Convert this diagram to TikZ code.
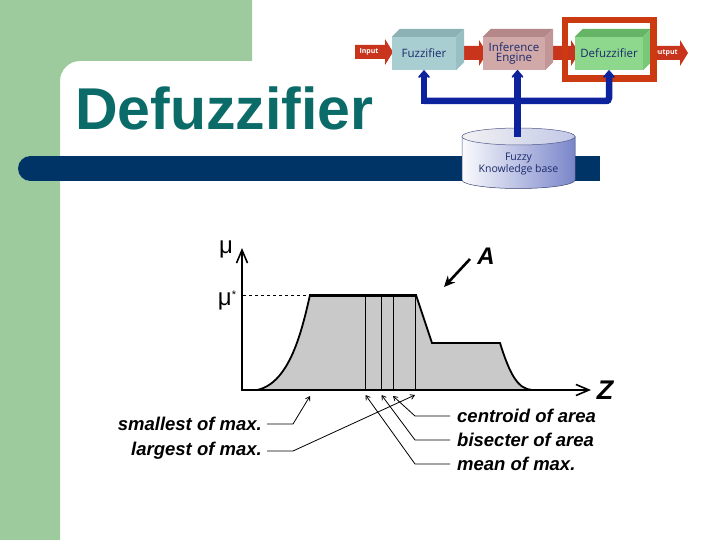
\documentclass[tikz,border=0pt]{standalone}
\usepackage{fontspec}
\setmainfont{Liberation Sans}
\newfontfamily\boxfont{Open Sans}
\usetikzlibrary{arrows.meta,calc}
\definecolor{bggreen}{HTML}{9DCB9D}
\definecolor{titleteal}{HTML}{0B6B68}
\definecolor{barblue}{HTML}{003366}
\definecolor{kbblue}{HTML}{0D239E}
\definecolor{redarrow}{HTML}{C8341C}
\definecolor{hilite}{HTML}{CC3A12}
\definecolor{plotgray}{HTML}{C9C9C9}
\definecolor{boxtext}{HTML}{1A2A6A}
\definecolor{fzfront}{HTML}{A9CED2}
\definecolor{fztop}{HTML}{8DB2B6}
\definecolor{fzside}{HTML}{98BFC3}
\definecolor{iefront}{HTML}{D2A9A9}
\definecolor{ietop}{HTML}{B48888}
\definecolor{ieside}{HTML}{C29696}
\definecolor{dffront}{HTML}{8ED88E}
\definecolor{dftop}{HTML}{66B566}
\definecolor{dfside}{HTML}{79C879}
\newcommand\myredarrow[3]{%
  \fill[redarrow] (#1,#3-7) -- (#2-8,#3-7) -- (#2-8,#3-13) -- (#2,#3) -- (#2-8,#3+13) -- (#2-8,#3+7) -- (#1,#3+7) -- cycle;}
\newcommand\myfaces[3]{%
  \fill[#2] (#1.north west) -- ++(8,-8) -- ($(#1.north east)+(8,-8)$) -- (#1.north east) -- cycle;
  \fill[#3] (#1.north east) -- ++(8,-8) -- ($(#1.south east)+(8,-8)$) -- (#1.south east) -- cycle;}
\tikzset{
  frontface/.style={minimum width=#1, minimum height=33pt, inner sep=0pt,
    font=\boxfont\fontsize{11.5}{12.5}\selectfont, text=boxtext, align=center},
  arrowlabel/.style={text=white, font=\boxfont\bfseries\fontsize{7}{8}\selectfont, inner sep=0pt},
  kbline/.style={kbblue, line width=6.5pt},
  kbhead/.style={-{Stealth[length=9pt,width=15pt,round]}},
  annot/.style={font=\bfseries\itshape\fontsize{18.5}{20}\selectfont, inner sep=0pt},
  pointer/.style={line width=0.8pt, -{Straight Barb[length=4pt,width=5pt]}},
  axis/.style={line width=2.4pt, -{Straight Barb[length=13pt,width=11pt,line width=1.6pt]}},
  cutline/.style={line width=1.1pt},
  mulabel/.style={font=\fontsize{24}{26}\selectfont, inner sep=0pt}
}
\begin{document}
\begin{tikzpicture}[x=1pt,y=-1pt]
\useasboundingbox (0,0) rectangle (720,540);
\fill[white] (0,0) rectangle (720,540);
% background
\fill[bggreen] (0,0) -- (252,0) -- (252,61) -- (80,61) .. controls (69,61) and (60,70) .. (60,81) -- (60,540) -- (0,540) -- cycle;
\fill[barblue] (30.5,156) rectangle (600,181);
\fill[barblue] (30.5,168.5) circle (12.5pt);
\node[anchor=base west, inner sep=0pt, text=titleteal, font=\bfseries\fontsize{59}{60}\selectfont] (title) at (75,130) {Defuzzifier};
% top diagram arrows
\myredarrow{355}{393}{52}
\node[arrowlabel] (inlbl) at (369,52) {Input};
\myredarrow{450}{487}{53}
\myredarrow{540}{579}{53}
\myredarrow{640}{688}{53}
\node[arrowlabel] (outlbl) at (665,53) {Output};
% boxes
\node[frontface=64pt, fill=fzfront] (fuzz) at (424,53.5) {Fuzzifier};
\myfaces{fuzz}{fztop}{fzside}
\node[frontface=62pt, fill=iefront] (inf) at (514,53.5) {Inference\\[-2pt]Engine};
\myfaces{inf}{ietop}{ieside}
\node[frontface=68pt, fill=dffront] (defz) at (609,53.5) {Defuzzifier};
\myfaces{defz}{dftop}{dfside}
% highlight
\draw[hilite, line width=6.5pt] (565.2,20.2) rectangle (653.7,78.7);
% knowledge base cylinder
\fill[left color=white!90!kbblue!20, right color=kbblue!55!white] (462,136.5) -- (462,180) arc[start angle=180, end angle=360, x radius=56.5pt, y radius=8.5pt] -- (575,136.5) -- cycle;
\draw[kbblue!40!gray, line width=0.5pt] (462,136.5) -- (462,180) arc[start angle=180, end angle=360, x radius=56.5pt, y radius=8.5pt] -- (575,136.5);
\shade[left color=white!90!gray, right color=kbblue!25!white, draw=kbblue!40!gray, line width=0.5pt] (518.5,136.5) ellipse[x radius=56.5pt, y radius=8.5pt];
\node[font=\boxfont\fontsize{10.5}{12.5}\selectfont, text=boxtext, align=center, inner sep=0pt] (kb) at (518.5,164) {Fuzzy\\Knowledge base};
\coordinate (kbtop) at (517.5,137);
% blue connectors
\coordinate (c1) at (424,101);
\coordinate (c2) at (609,101);
\draw[kbline, kbhead, rounded corners=3pt] (c1) -- (c2) -- (defz.south);
\draw[kbline, kbhead] (c2) -- (c1) -- (fuzz.south);
\draw[kbline, kbhead] (kbtop) -- (517.5,70);
% plot
\fill[plotgray] (257,390) .. controls (290,383) and (302,330) .. (310,295) -- (416,295) -- (432,343) -- (500,343) .. controls (510,375) and (518,389) .. (532,390) -- cycle;
\draw[line width=1.8pt] (257,390) .. controls (290,383) and (302,330) .. (310,295);
\draw[line width=3pt] (308.5,295) -- (417,295);
\draw[line width=1.8pt] (416,295) -- (432,343) -- (500,343) .. controls (510,375) and (518,389) .. (532,390);
\draw[cutline] (365.5,295) -- (365.5,390);
\draw[cutline] (381.5,295) -- (381.5,390);
\draw[cutline] (393.5,295) -- (393.5,390);
\draw[cutline] (415.5,295) -- (415.5,390);
\draw[dashed, line width=0.8pt] (243,295.5) -- (308,295.5);
\coordinate (origin) at (242,390);
\coordinate (ytip) at (242,248);
\coordinate (xtip) at (591,390);
\draw[axis] (origin) -- (ytip);
\draw[axis] ($(origin)+(-1.2,0)$) -- (xtip);
\node[mulabel] (mu) at (226,249) {μ};
\node[mulabel] (mustar) at (227,301) {μ\raisebox{7pt}{\fontsize{11}{12}\selectfont *}};
\node[font=\bfseries\itshape\fontsize{27}{28}\selectfont, inner sep=0pt] (zlbl) at (605,390) {Z};
\node[font=\bfseries\itshape\fontsize{24}{26}\selectfont, inner sep=0pt] (alb) at (486,256) {A};
\coordinate (aarrow) at (470,259);
\draw[line width=2.6pt, -{Stealth[length=11pt,width=10pt]}] (aarrow) -- (444,287);
% annotations
\node[annot, anchor=east] (som) at (262,424) {smallest of max.};
\node[annot, anchor=east] (lom) at (262,451) {largest of max.};
\node[annot, anchor=west] (coa) at (457,416) {centroid of area};
\node[annot, anchor=west] (boa) at (457,440) {bisecter of area};
\node[annot, anchor=west] (mom) at (457,464) {mean of max.};
\draw[pointer] ($(som.east)+(5,0)$) -- (293,424) -- (310,396);
\draw[pointer] ($(lom.east)+(5,0)$) -- (293,451) -- (415,395);
\draw[pointer] ($(coa.west)+(-7,0)$) -- (415,416) -- (393,396);
\draw[pointer] ($(boa.west)+(-7,0)$) -- (415,440) -- (381.5,395);
\draw[pointer] ($(mom.west)+(-7,0)$) -- (415,464) -- (365.5,395);
\end{tikzpicture}
\end{document}
